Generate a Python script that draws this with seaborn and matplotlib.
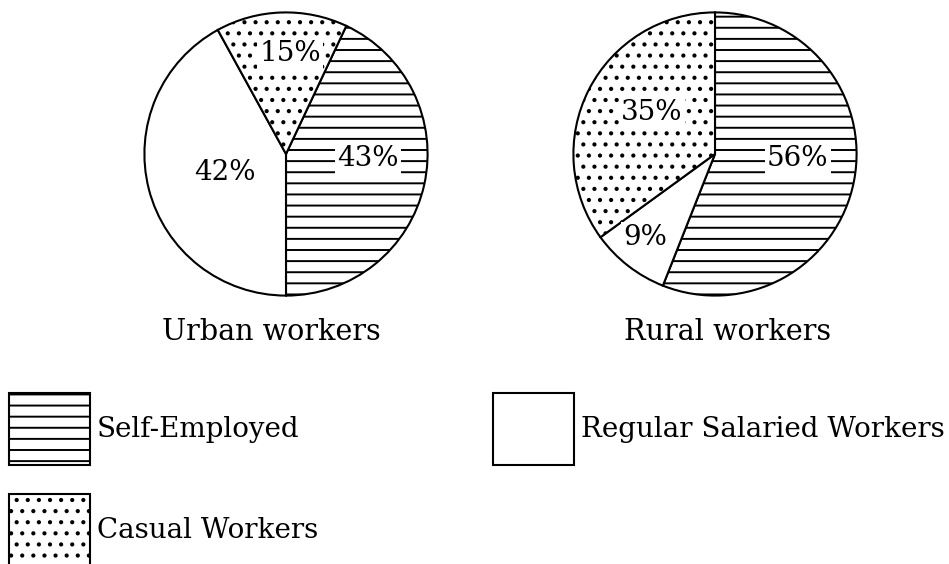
import matplotlib
matplotlib.use("Agg")
import matplotlib.pyplot as plt
import seaborn as sns
from matplotlib.patches import Patch


CATEGORIES = ["Self-Employed", "Regular Salaried Workers", "Casual Workers"]
URBAN_SHARE = [43, 42, 15]
RURAL_SHARE = [56, 9, 35]
PIE_TITLES = ["Urban workers", "Rural workers"]

HATCHES = ["---", "", "..."]

# label spots inside each pie (pie radius = 1)
URBAN_LABEL_POS = [(0.58, -0.03), (-0.43, -0.13), (0.03, 0.71)]
RURAL_LABEL_POS = [(0.585, -0.03), (-0.49, -0.59), (-0.446, 0.29)]

FONT = ["DejaVu Serif"]
FONT_SIZE = 10
DPI = 200
W, H = 949, 564


def draw_pie(ax, values, start, label_pos):
    wedges, _ = ax.pie(
        values,
        startangle=start,
        counterclock=False,
        colors=["white"] * len(values),
        radius=1,
        wedgeprops={"edgecolor": "black", "linewidth": 0.75},
    )
    for wedge, hatch in zip(wedges, HATCHES):
        wedge.set_hatch(hatch)

    for value, (x, y) in zip(values, label_pos):
        ax.text(
            x, y, f"{value}%",
            ha="center", va="center",
            fontsize=FONT_SIZE, family=FONT, color="black",
            bbox={"facecolor": "white", "edgecolor": "none", "pad": 0.8},
        )
    ax.set_xlim(-1.01, 1.01)
    ax.set_ylim(-1.01, 1.01)
    ax.set_aspect("equal")
    ax.axis("off")


if __name__ == "__main__":
    sns.set_theme(style="white")
    plt.rcParams["font.family"] = FONT
    plt.rcParams["text.color"] = "black"
    plt.rcParams["hatch.linewidth"] = 0.7
    plt.rcParams["hatch.color"] = "black"

    fig = plt.figure(figsize=(W / DPI, H / DPI), dpi=DPI)

    r = 143
    centers = [(286, 154), (715, 154)]
    axes = []
    for cx, cy in centers:
        ax = fig.add_axes([(cx - r) / W, 1 - (cy + r) / H, 2 * r / W, 2 * r / H])
        axes.append(ax)

    draw_pie(axes[0], URBAN_SHARE, -90 + URBAN_SHARE[0] * 3.6, URBAN_LABEL_POS)
    draw_pie(axes[1], RURAL_SHARE, 90, RURAL_LABEL_POS)

    for title, tx in zip(PIE_TITLES, [271, 728]):
        fig.text(tx / W, 1 - 332 / H, title, ha="center", va="center",
                 fontsize=FONT_SIZE + 0.3, family=FONT)

    handles = [
        Patch(facecolor="white", edgecolor="black", hatch=HATCHES[0], linewidth=0.75),
        Patch(facecolor="white", edgecolor="black", hatch=HATCHES[2], linewidth=0.75),
        Patch(facecolor="white", edgecolor="black", hatch=HATCHES[1], linewidth=0.75),
    ]
    labels = [CATEGORIES[0], CATEGORIES[2], CATEGORIES[1]]
    px = FONT_SIZE * DPI / 72
    box_h = 72 / px
    fig.legend(
        handles, labels,
        loc="upper left",
        bbox_to_anchor=(9 / W, 1 - 393 / H),
        ncol=2,
        frameon=False,
        fontsize=FONT_SIZE,
        handlelength=81 / px,
        handleheight=(box_h - 0.245) / 0.65,
        handletextpad=7 / px,
        labelspacing=29 / px,
        columnspacing=175 / px,
        borderpad=0,
        borderaxespad=0,
    )

    fig.savefig("out.png", dpi=DPI)
